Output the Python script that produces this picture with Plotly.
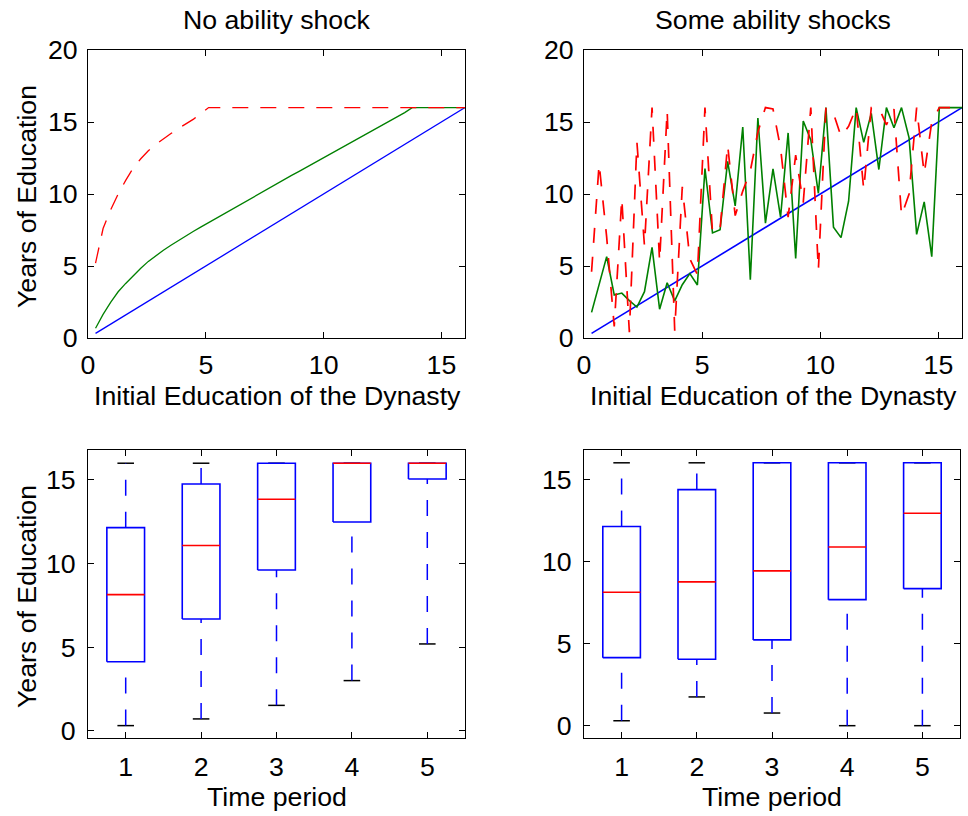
import plotly.graph_objects as go

# ---------------- data ----------------
# initial education of the dynasty (x grid shared by both top panels)
init_edu = [0.32, 0.64, 0.96, 1.28, 1.60, 1.92, 2.24, 2.56, 2.88, 3.20,
            3.52, 3.84, 4.16, 4.48, 4.80, 5.12, 5.44, 5.76, 6.08, 6.40,
            6.72, 7.04, 7.36, 7.68, 8.00, 8.32, 8.64, 8.96, 9.28, 9.60,
            9.92, 10.24, 10.56, 10.88, 11.20, 11.52, 11.84, 12.16, 12.48, 12.80,
            13.12, 13.44, 13.76, 14.08, 14.40, 14.72, 15.04, 15.36, 15.68, 16.00]

# 45-degree reference line (end points)
diag_x = [0.32, 16.0]
diag_y = [0.32, 16.0]

# No ability shock
noshock_red = [5.2, 7.6, 8.9, 10.0, 10.95, 11.8, 12.45, 13.0, 13.45, 13.85,
               14.2, 14.55, 14.85, 15.2, 15.6, 16, 16, 16, 16, 16,
               16, 16, 16, 16, 16, 16, 16, 16, 16, 16,
               16, 16, 16, 16, 16, 16, 16, 16, 16, 16,
               16, 16, 16, 16, 16, 16, 16, 16, 16, 16]
noshock_green = [0.68, 1.64, 2.47, 3.21, 3.79, 4.33, 4.84, 5.32, 5.72, 6.09,
                 6.44, 6.78, 7.10, 7.41, 7.72, 8.02, 8.32, 8.63, 8.94, 9.25,
                 9.55, 9.84, 10.13, 10.42, 10.71, 11.0, 11.29, 11.57, 11.86, 12.14,
                 12.43, 12.71, 13.0, 13.28, 13.57, 13.86, 14.15, 14.44, 14.73, 15.02,
                 15.31, 15.65, 16, 16, 16, 16, 16, 16, 16, 16]

# Some ability shocks
shock_red = [4.6, 12.1, 7.0, 0.8, 9.7, 0.4, 13.6, 6.4, 16, 5.3,
             15.8, 0.5, 10.5, 5.5, 4.4, 16, 7.3, 7.6, 13.4, 8.5,
             10.2, 11.6, 14.3, 16, 15.9, 13.2, 8.4, 12.7, 9.4, 16,
             4.7, 16, 15.6, 14.0, 14.7, 16, 10.3, 16, 16, 14.8,
             15.9, 8.5, 10.0, 16, 11.4, 15.0, 16, 16, 16, 16]
shock_green = [1.78, 3.7, 5.65, 2.99, 3.12, 2.6, 2.15, 3.22, 6.3, 2.0,
               3.84, 2.58, 3.7, 4.47, 3.68, 11.76, 7.3, 7.52, 12.27, 9.18,
               14.65, 4.05, 15.28, 7.98, 11.74, 8.4, 14.24, 5.53, 15.07, 13.75,
               10.05, 16, 7.7, 6.97, 9.5, 16, 13.59, 15.6, 11.7, 16,
               14.6, 16, 13.9, 7.2, 9.45, 5.65, 16, 16, 16, 16]

# Box plots over time periods
periods = [1, 2, 3, 4, 5]
period_labels = ["1", "2", "3", "4", "5"]

ns_lower = [0.32, 0.72, 1.53, 3.01, 5.2]
ns_q1 = [4.14, 6.69, 9.62, 12.49, 15.06]
ns_median = [8.15, 11.08, 13.85, 16, 16]
ns_q3 = [12.15, 14.76, 16, 16, 16]
ns_upper = [16, 16, 16, 16, 16]

sh_lower = [0.3, 1.75, 0.77, 0.0, 0.0]
sh_q1 = [4.14, 4.04, 5.22, 7.67, 8.34]
sh_median = [8.12, 8.75, 9.42, 10.88, 12.93]
sh_q3 = [12.12, 14.37, 16, 16, 16]
sh_upper = [16, 16, 16, 16, 16]

# ---------------- style ----------------
FONT = "Liberation Sans, Arial, Helvetica, sans-serif"
FS = 26.7
BLUE = "#0000ff"
GREEN = "#008000"
RED = "#ff0000"
BOX_HALF = 0.25
CAP_HALF = 0.11

fig = go.Figure()


def line(x, y, color, width, dash=None, xa="x", ya="y"):
    fig.add_trace(go.Scatter(x=x, y=y, mode="lines", xaxis=xa, yaxis=ya,
                             line=dict(color=color, width=width, dash=dash),
                             hoverinfo="skip", showlegend=False))


# top-left
line(diag_x, diag_y, BLUE, 1.3, xa="x", ya="y")
line(init_edu, noshock_green, GREEN, 1.3, xa="x", ya="y")
line(init_edu, noshock_red, RED, 1.3, dash="16px,12px", xa="x", ya="y")

# top-right
line(diag_x, diag_y, BLUE, 1.6, xa="x2", ya="y2")
line(init_edu, shock_green, GREEN, 1.6, xa="x2", ya="y2")
line(init_edu, shock_red, RED, 1.7, dash="15px,14px", xa="x2", ya="y2")


def boxes(lower, q1, med, q3, upper, xa, ya):
    cx, cy, wx, wy, bx, by, mx, my = [], [], [], [], [], [], [], []
    for p, lo, a, m, b, hi in zip(periods, lower, q1, med, q3, upper):
        cx += [p - CAP_HALF, p + CAP_HALF, None, p - CAP_HALF, p + CAP_HALF, None]
        cy += [hi, hi, None, lo, lo, None]
        wx += [p, p, None, p, p, None]
        wy += [lo, a, None, b, hi, None]
        bx += [p - BOX_HALF, p + BOX_HALF, p + BOX_HALF, p - BOX_HALF, p - BOX_HALF, None]
        by += [a, a, b, b, a, None]
        mx += [p - BOX_HALF, p + BOX_HALF, None]
        my += [m, m, None]
    line(cx, cy, "black", 1.5, xa=xa, ya=ya)
    line(wx, wy, BLUE, 1.5, dash="16px,16px", xa=xa, ya=ya)
    line(bx, by, BLUE, 1.6, xa=xa, ya=ya)
    line(mx, my, RED, 1.6, xa=xa, ya=ya)


boxes(ns_lower, ns_q1, ns_median, ns_q3, ns_upper, "x3", "y3")
boxes(sh_lower, sh_q1, sh_median, sh_q3, sh_upper, "x4", "y4")

W, H = 968, 816


def dom_x(a, b):
    return [a / W, b / W]


def dom_y(top, bottom):
    return [1 - bottom / H, 1 - top / H]


base = dict(showline=True, linecolor="black", linewidth=1, mirror="ticks",
            ticks="inside", ticklen=6, tickcolor="black", tickwidth=1,
            showgrid=False, zeroline=False, automargin=False,
            tickfont=dict(family=FONT, size=FS, color="black"))

fig.update_layout(
    width=W, height=H,
    margin=dict(l=0, r=0, t=0, b=0, autoexpand=False),
    paper_bgcolor="white", plot_bgcolor="white",
    showlegend=False,
    xaxis=dict(base, domain=dom_x(88, 465), range=[0, 16], tickvals=[0, 5, 10, 15],
               anchor="y", ticklabelstandoff=3),
    yaxis=dict(base, domain=dom_y(50, 338), range=[0, 20], tickvals=[0, 5, 10, 15, 20],
               anchor="x", ticklabelstandoff=4),
    xaxis2=dict(base, domain=dom_x(584, 962), range=[0, 16], tickvals=[0, 5, 10, 15],
                anchor="y2", ticklabelstandoff=3),
    yaxis2=dict(base, domain=dom_y(50, 338), range=[0, 20], tickvals=[0, 5, 10, 15, 20],
                anchor="x2", ticklabelstandoff=4),
    xaxis3=dict(base, domain=dom_x(88, 465), range=[0.5, 5.5], tickvals=periods,
                ticktext=period_labels, anchor="y3", ticklabelstandoff=5),
    yaxis3=dict(base, domain=dom_y(450, 738), range=[-0.42, 16.79], tickvals=[0, 5, 10, 15],
                anchor="x3", ticklabelstandoff=6),
    xaxis4=dict(base, domain=dom_x(584, 960), range=[0.5, 5.5], tickvals=periods,
                ticktext=period_labels, anchor="y4", ticklabelstandoff=5),
    yaxis4=dict(base, domain=dom_y(450, 738), range=[-0.75, 16.78], tickvals=[0, 5, 10, 15],
                anchor="x4", ticklabelstandoff=6),
)


def text(s, px, py, angle=0):
    fig.add_annotation(text=s, x=px / W, y=1 - py / H, xref="paper", yref="paper",
                       xanchor="center", yanchor="middle", showarrow=False,
                       textangle=angle, font=dict(family=FONT, size=FS, color="black"))


text("No ability shock", 277, 20)
text("Some ability shocks", 773, 20)
text("Initial Education of the Dynasty", 277, 396)
text("Initial Education of the Dynasty", 773, 396)
text("Years of Education", 27, 197, -90)
text("Years of Education", 27, 597, -90)
text("Time period", 277, 797)
text("Time period", 772, 797)

fig.write_html("out.html")
